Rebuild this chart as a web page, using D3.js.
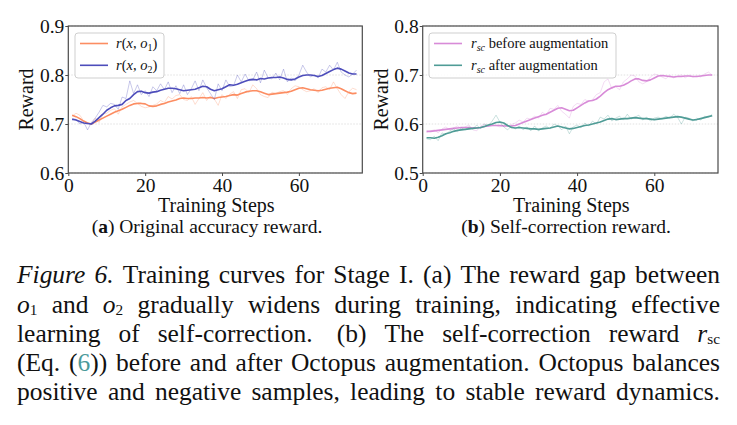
<!DOCTYPE html>
<html><head><meta charset="utf-8">
<script src="https://cdn.jsdelivr.net/npm/d3@7/dist/d3.min.js"></script>
<style>
html,body{margin:0;padding:0;background:#fff;}
svg{display:block;}
</style>
</head><body>
<svg id="fig" width="737" height="425"></svg>
<script>
// ---------- data ----------
const steps = d3.range(1, 76);
const xTicks = [0, 20, 40, 60];
const yTicksA = [0.6, 0.7, 0.8, 0.9];
const yTicksB = [0.5, 0.6, 0.7, 0.8];

const o1Raw = [0.716,0.722,0.718,0.706,0.702,0.700,0.712,0.703,0.720,0.722,0.728,0.731,0.720,0.735,0.740,0.745,0.748,0.742,0.736,0.733,
0.735,0.738,0.741,0.748,0.744,0.756,0.751,0.758,0.760,0.750,0.748,0.756,0.740,0.752,0.764,0.748,0.757,0.751,0.738,0.760,
0.752,0.761,0.766,0.752,0.770,0.772,0.764,0.780,0.772,0.760,0.756,0.754,0.765,0.762,0.766,0.768,0.760,0.772,0.778,0.776,
0.770,0.766,0.768,0.772,0.764,0.774,0.776,0.770,0.786,0.772,0.760,0.752,0.766,0.773,0.770];
const o1Smooth = [0.718,0.715,0.711,0.706,0.702,0.700,0.704,0.708,0.712,0.716,0.720,0.724,0.727,0.730,0.734,0.738,0.741,0.742,0.742,0.741,
0.737,0.736,0.737,0.740,0.742,0.745,0.747,0.749,0.752,0.753,0.752,0.752,0.753,0.753,0.754,0.753,0.754,0.752,0.754,0.755,
0.756,0.758,0.760,0.759,0.762,0.765,0.767,0.768,0.768,0.766,0.763,0.760,0.761,0.762,0.763,0.764,0.765,0.767,0.770,0.773,
0.774,0.772,0.770,0.769,0.768,0.769,0.771,0.773,0.774,0.775,0.772,0.768,0.764,0.762,0.763];
const o2Raw = [0.708,0.710,0.700,0.704,0.688,0.703,0.712,0.724,0.738,0.735,0.742,0.740,0.730,0.755,0.752,0.788,0.762,0.780,0.760,0.768,
0.756,0.776,0.768,0.782,0.770,0.786,0.764,0.778,0.762,0.780,0.760,0.772,0.788,0.768,0.790,0.774,0.762,0.750,0.782,0.768,
0.790,0.776,0.778,0.800,0.786,0.802,0.788,0.790,0.806,0.784,0.810,0.794,0.792,0.804,0.790,0.812,0.786,0.794,0.788,0.800,
0.820,0.806,0.796,0.800,0.794,0.812,0.806,0.820,0.810,0.826,0.806,0.800,0.796,0.802,0.810];
const o2Smooth = [0.710,0.708,0.705,0.702,0.701,0.700,0.706,0.713,0.720,0.728,0.733,0.737,0.738,0.740,0.748,0.752,0.760,0.766,0.767,0.764,
0.763,0.765,0.766,0.769,0.771,0.773,0.773,0.772,0.770,0.768,0.769,0.770,0.771,0.774,0.777,0.776,0.771,0.768,0.770,0.772,
0.776,0.780,0.779,0.781,0.784,0.787,0.790,0.791,0.790,0.793,0.792,0.794,0.795,0.795,0.796,0.794,0.791,0.790,0.792,0.796,
0.799,0.800,0.800,0.799,0.797,0.799,0.803,0.807,0.811,0.814,0.812,0.808,0.804,0.802,0.802];

const scBeforeRaw = [0.583,0.586,0.588,0.582,0.590,0.594,0.588,0.592,0.596,0.590,0.594,0.598,0.588,0.586,0.596,0.600,0.596,0.599,0.597,0.594,
0.598,0.595,0.599,0.602,0.608,0.604,0.612,0.610,0.616,0.612,0.624,0.618,0.632,0.630,0.638,0.626,0.620,0.612,0.636,0.642,
0.640,0.650,0.646,0.650,0.660,0.664,0.686,0.692,0.672,0.676,0.670,0.686,0.692,0.700,0.698,0.686,0.682,0.686,0.696,0.702,
0.700,0.696,0.692,0.700,0.694,0.698,0.700,0.694,0.700,0.696,0.698,0.696,0.702,0.706,0.700];
const scBeforeSmooth = [0.585,0.585,0.586,0.587,0.588,0.589,0.590,0.591,0.592,0.593,0.593,0.593,0.592,0.592,0.593,0.595,0.596,0.597,0.597,0.597,
0.596,0.596,0.596,0.597,0.600,0.603,0.606,0.609,0.612,0.615,0.618,0.620,0.624,0.628,0.632,0.633,0.630,0.627,0.628,0.633,
0.638,0.643,0.647,0.648,0.651,0.657,0.664,0.670,0.674,0.677,0.677,0.679,0.683,0.688,0.692,0.692,0.689,0.688,0.690,0.694,
0.698,0.699,0.698,0.697,0.696,0.697,0.697,0.698,0.698,0.697,0.697,0.698,0.699,0.700,0.700];
const scAfterRaw = [0.570,0.568,0.575,0.566,0.582,0.578,0.586,0.590,0.584,0.592,0.588,0.594,0.590,0.598,0.590,0.600,0.596,0.606,0.618,0.604,
0.594,0.588,0.596,0.590,0.596,0.588,0.594,0.586,0.596,0.586,0.592,0.596,0.590,0.600,0.596,0.588,0.596,0.580,0.594,0.598,
0.592,0.602,0.596,0.606,0.600,0.614,0.610,0.618,0.606,0.612,0.616,0.608,0.620,0.610,0.614,0.618,0.608,0.614,0.606,0.612,
0.614,0.610,0.616,0.612,0.620,0.614,0.600,0.614,0.612,0.606,0.612,0.608,0.616,0.614,0.620];
const scAfterSmooth = [0.572,0.572,0.571,0.573,0.576,0.580,0.582,0.585,0.587,0.588,0.589,0.590,0.591,0.592,0.593,0.595,0.598,0.600,0.603,0.604,
0.602,0.597,0.593,0.592,0.593,0.592,0.591,0.590,0.590,0.589,0.590,0.591,0.592,0.594,0.596,0.594,0.592,0.590,0.591,0.593,
0.595,0.597,0.598,0.600,0.602,0.604,0.607,0.610,0.611,0.609,0.610,0.611,0.611,0.612,0.613,0.612,0.611,0.611,0.610,0.609,
0.610,0.611,0.612,0.613,0.614,0.615,0.614,0.612,0.610,0.608,0.609,0.611,0.613,0.615,0.617];

// ---------- drawing ----------
const svg = d3.select('#fig');
const PF = "Liberation Serif, serif";
const FS = 19;
const colors = {o1:'#fc8d62', o2:'#4d4dbb', before:'#d88bd8', after:'#4f9c96'};

function panel(cfg){
  const x = d3.scaleLinear().domain([0, 76.5]).range([cfg.x0, cfg.x1]);
  const y = d3.scaleLinear().domain(cfg.ydom).range([cfg.y1, cfg.y0]);
  const g = svg.append('g');
  g.selectAll('line.grid').data(cfg.yticks).enter().append('line')
    .attr('x1', cfg.x0).attr('x2', cfg.x1).attr('y1', d=>y(d)).attr('y2', d=>y(d))
    .attr('stroke', '#d9d9d9').attr('stroke-width', 0.8).attr('stroke-dasharray', '1.5,1.5');
  cfg.series.forEach(s=>{
    const line = d3.line().x((d,i)=>x(steps[i])).y(d=>y(d));
    g.append('path').attr('d', line(s.raw)).attr('fill','none')
      .attr('stroke', s.color).attr('stroke-width', 1).attr('stroke-opacity', 0.3);
    g.append('path').attr('d', line(s.smooth)).attr('fill','none')
      .attr('stroke', s.color).attr('stroke-width', 1.6).attr('stroke-linejoin','round');
  });
  g.append('rect').attr('x', cfg.x0).attr('y', cfg.y0).attr('width', cfg.x1-cfg.x0).attr('height', cfg.y1-cfg.y0)
    .attr('fill','none').attr('stroke','#4a4a4a').attr('stroke-width',1.2);
  const ax = g.append('g').attr('transform', `translate(0,${cfg.y1})`)
    .call(d3.axisBottom(x).tickValues(xTicks).tickSize(3).tickPadding(1.8).tickFormat(d3.format('d')));
  const ay = g.append('g').attr('transform', `translate(${cfg.x0},0)`)
    .call(d3.axisLeft(y).tickValues(cfg.yticks).tickSize(3).tickPadding(1).tickFormat(d3.format('.1f')));
  [ax, ay].forEach(a=>{
    a.select('.domain').remove();
    a.selectAll('line').attr('stroke','#4a4a4a').attr('stroke-width',1);
    a.selectAll('text').attr('font-family', PF).attr('font-size', FS + 0.5).attr('fill','#111');
  });
  g.append('text').attr('x', (cfg.x0+cfg.x1)/2 + 1).attr('y', 211.5).attr('text-anchor','middle')
    .attr('font-family', PF).attr('font-size', FS + 1).attr('fill','#111').text('Training Steps');
  g.append('text').attr('transform', `translate(${cfg.ylx},${(cfg.y0+cfg.y1)/2}) rotate(-90)`)
    .attr('text-anchor','middle').attr('dy','0.35em')
    .attr('font-family', PF).attr('font-size', FS + 1).attr('fill','#111').text('Reward');
  const cap = g.append('text').attr('x', cfg.capx).attr('y', 232.5).attr('text-anchor','middle')
    .attr('font-family', PF).attr('font-size', FS + 0.5).attr('fill','#111');
  cap.append('tspan').text('(');
  cap.append('tspan').attr('font-weight','bold').text(cfg.capLetter);
  cap.append('tspan').text(') ' + cfg.capText);
  const L = cfg.legend;
  g.append('rect').attr('x', L.x).attr('y', L.y).attr('width', L.w).attr('height', L.h)
    .attr('rx', 3).attr('fill','#fff').attr('fill-opacity',0.85).attr('stroke','#cfcfcf').attr('stroke-width',1);
  cfg.series.forEach((s,i)=>{
    const ly = L.y + 10.5 + i*21.8;
    g.append('line').attr('x1', L.x+5).attr('x2', L.x+33).attr('y1', ly).attr('y2', ly)
      .attr('stroke', s.color).attr('stroke-width', 1.6);
    const t = g.append('text').attr('x', L.x+L.tx).attr('y', ly+4.8)
      .attr('font-family', PF).attr('font-size', 14.5).attr('fill','#111');
    s.label(t);
  });
}

function mathO(t, n){
  t.append('tspan').attr('font-style','italic').text('r');
  t.append('tspan').text('(');
  t.append('tspan').attr('font-style','italic').text('x');
  t.append('tspan').text(', ');
  t.append('tspan').attr('font-style','italic').text('o');
  t.append('tspan').attr('font-size', 10).attr('dy', 3).text(n);
  t.append('tspan').attr('dy', -3).text(')');
}
function rsc(t, rest){
  t.append('tspan').attr('font-style','italic').text('r');
  t.append('tspan').attr('font-style','italic').attr('font-size', 10).attr('dy', 2.5).text('sc');
  t.append('tspan').attr('dy', -2.5).text(' ' + rest);
}

panel({x0:68.3, x1:362.3, y0:26, y1:173, ydom:[0.6,0.9], yticks:yTicksA, ylx:26, capx:207,
  capLetter:'a', capText:'Original accuracy reward.',
  legend:{x:75, y:33, w:89, h:45, tx:41},
  series:[
    {raw:o1Raw, smooth:o1Smooth, color:colors.o1, label:t=>mathO(t,'1')},
    {raw:o2Raw, smooth:o2Smooth, color:colors.o2, label:t=>mathO(t,'2')}
  ]});
panel({x0:422.7, x1:718, y0:26, y1:173, ydom:[0.5,0.8], yticks:yTicksB, ylx:381, capx:566,
  capLetter:'b', capText:'Self-correction reward.',
  legend:{x:429, y:33, w:187, h:45, tx:42},
  series:[
    {raw:scBeforeRaw, smooth:scBeforeSmooth, color:colors.before, label:t=>rsc(t,'before augmentation')},
    {raw:scAfterRaw, smooth:scAfterSmooth, color:colors.after, label:t=>rsc(t,'after augmentation')}
  ]});

// ---------- figure caption (justified) ----------
const CF = "Liberation Serif, serif";
const capFS = 26;
const capSX = 0.98;
const N = s=>({t:s});
const I = s=>({t:s, i:true});
const SUB = s=>({t:s, sub:true});
const LINK = s=>({t:s, link:true});
const capLines = [
  [[I('Figure')],[I('6.')],[N('Training')],[N('curves')],[N('for')],[N('Stage')],[N('I.')],[N('(a)')],[N('The')],[N('reward')],[N('gap')],[N('between')]],
  [[I('o'),SUB('1')],[N('and')],[I('o'),SUB('2')],[N('gradually')],[N('widens')],[N('during')],[N('training,')],[N('indicating')],[N('effective')]],
  [[N('learning')],[N('of')],[N('self-correction.')],[N('\u00a0(b)')],[N('The')],[N('self-correction')],[N('reward')],[I('r'),SUB('sc')]],
  [[N('(Eq.')],[N('('),LINK('6'),N('))')],[N('before')],[N('and')],[N('after')],[N('Octopus')],[N('augmentation.')],[N('Octopus')],[N('balances')]],
  [[N('positive')],[N('and')],[N('negative')],[N('samples,')],[N('leading')],[N('to')],[N('stable')],[N('reward')],[N('dynamics.')]]
];
const capX0 = 17, capX1 = 720, capY0 = 283.5, capDY = 29.2;
const capG = svg.append('g').attr('transform', `translate(${capX0},0) scale(${capSX},1)`);
const avail = (capX1 - capX0) / capSX;
capLines.forEach((words, li)=>{
  const y = capY0 + li*capDY;
  const els = words.map(segs=>{
    const t = capG.append('text').attr('y', y).attr('font-family', CF).attr('font-size', capFS).attr('fill','#111');
    segs.forEach(sg=>{
      const sp = t.append('tspan').text(sg.t);
      if (sg.i) sp.attr('font-style','italic');
      if (sg.sub) sp.attr('font-size', capFS*0.6).attr('dy', 2.5);
      if (sg.link) sp.attr('fill', '#4a9a9a');
    });
    return t;
  });
  const widths = els.map(e=>e.node().getComputedTextLength());
  const total = d3.sum(widths);
  const gap = (avail - total) / (els.length - 1);
  let x = 0;
  els.forEach((e,i)=>{ e.attr('x', x); x += widths[i] + gap; });
});
</script>
</body></html>
